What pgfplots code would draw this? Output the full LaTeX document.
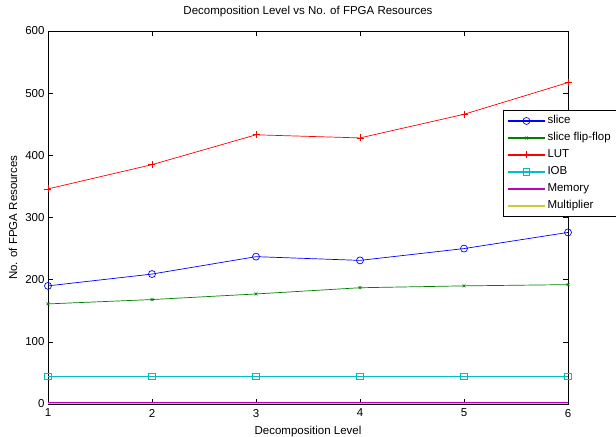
\documentclass[border=0pt]{standalone}
\usepackage{fontspec}
\setmainfont{Liberation Sans}
\usepackage{pgfplots}
\pgfplotsset{compat=1.18}
\definecolor{mb}{rgb}{0,0,1}
\definecolor{mg}{rgb}{0,0.5,0}
\definecolor{mr}{rgb}{1,0,0}
\definecolor{mc}{rgb}{0,0.75,0.75}
\definecolor{mm}{rgb}{0.75,0,0.75}
\definecolor{my}{rgb}{0.8,0.8,0.2}
\pgfplotsset{mleg/.style n args={3}{legend image code/.code={%
  \path[draw=#1,line width=1.1pt] (0pt,0pt) -- (37pt,0pt);
  \path plot[only marks, mark=#2, mark size=#3, mark options={draw=#1,fill=none,line width=0.7pt}] coordinates {(18.5pt,0pt)};}}}
\begin{document}
\begin{tikzpicture}
\begin{axis}[
  scale only axis,
  width=520pt, height=373pt,
  xmin=1, xmax=6, ymin=0, ymax=600,
  xtick={1,2,3,4,5,6},
  ytick={0,100,200,300,400,500,600},
  tick align=inside,
  xtick pos=both, ytick pos=both,
  major tick length=5pt,
  axis line style={line width=0.6pt},
  every tick/.style={black, line width=0.6pt},
  font=\fontsize{11.5}{13}\selectfont,
  /pgf/number format/assume math mode=true,
  xticklabel style={yshift=-1.5pt},
  title={Decomposition Level vs No. of FPGA Resources},
  title style={at={(axis description cs:0.5,1.0276)},anchor=base},
  xlabel={Decomposition Level},
  every axis x label/.style={at={(axis description cs:0.5,-0.0812)},anchor=base},
  ylabel={No. of FPGA Resources},
  every axis y label/.style={at={(axis description cs:-0.0596,0.5)},rotate=90,anchor=base},
  legend style={at={(axis description cs:0.875,0.788)}, anchor=north west,
    line width=0.8pt,
    font=\fontsize{11.5}{13}\selectfont,
    inner xsep=4pt, inner ysep=2pt,
    row sep=0pt,
    nodes={text height=8.5pt, text depth=2.5pt, inner ysep=3pt, inner xsep=2pt},
    cells={anchor=west}},
  every axis plot/.append style={line width=0.7pt},
]
\addplot[color=mb, mark=o, mark size=3.5pt, mleg={mb}{o}{3.5pt}] coordinates {(1,190)(2,209)(3,237)(4,231)(5,250)(6,276)};
\addlegendentry{slice}
\addplot[color=mg, mark=x, mark size=2pt, mleg={mg}{x}{2pt}] coordinates {(1,161)(2,168)(3,177)(4,187)(5,190)(6,192)};
\addlegendentry{slice flip-flop}
\addplot[color=mr, mark=+, mark size=3.5pt, mleg={mr}{+}{3.5pt}] coordinates {(1,346)(2,385)(3,433)(4,428)(5,466)(6,517)};
\addlegendentry{LUT}
\addplot[color=mc, mark=square, mark size=3.2pt, mleg={mc}{square}{3.2pt}] coordinates {(1,44)(2,44)(3,44)(4,44)(5,44)(6,44)};
\addlegendentry{IOB}
\addplot[color=mm, mleg={mm}{none}{1pt}] coordinates {(1,3)(2,3)(3,3)(4,3)(5,3)(6,3)};
\addlegendentry{Memory}
\addplot[color=my, mleg={my}{none}{1pt}] coordinates {(1,1)(2,1)(3,1)(4,1)(5,1)(6,1)};
\addlegendentry{Multiplier}
\end{axis}
\pgfresetboundingbox
\useasboundingbox ([xshift=-48pt,yshift=-33pt]current axis.south west) rectangle ([xshift=48pt,yshift=31pt]current axis.north east);
\end{tikzpicture}
\end{document}
